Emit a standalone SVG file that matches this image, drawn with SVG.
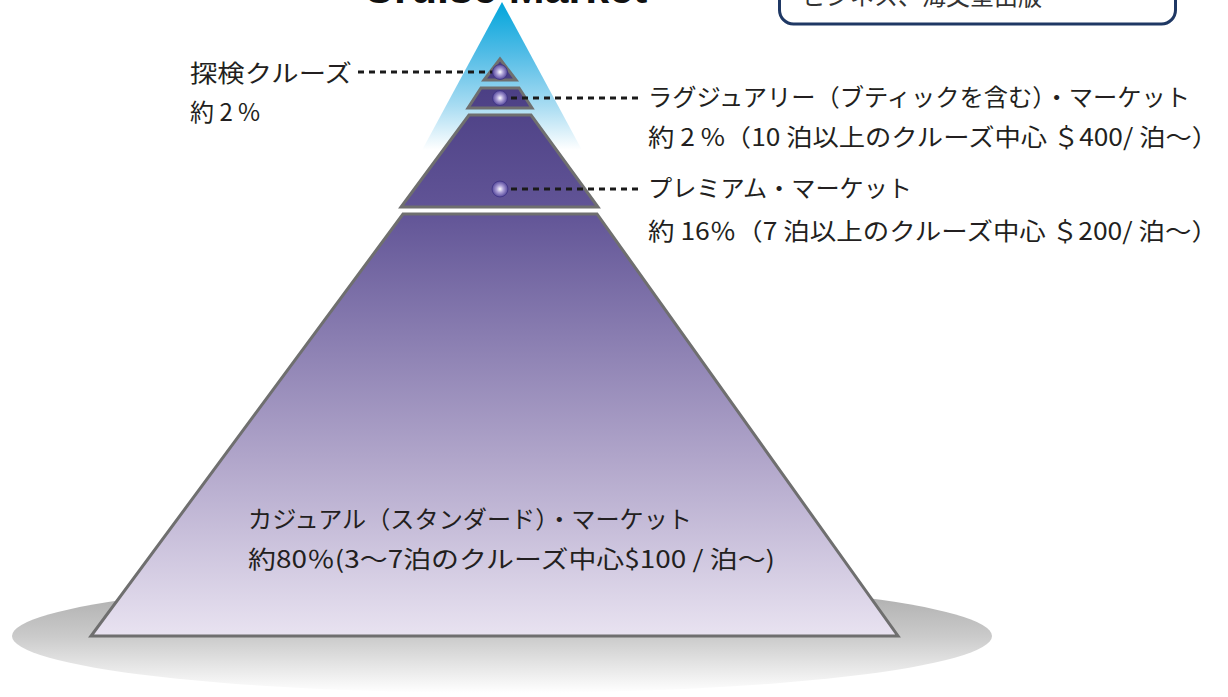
<svg xmlns="http://www.w3.org/2000/svg" width="1228" height="697" viewBox="0 0 1228 697">
<defs>
<linearGradient id="blue" x1="0" y1="2" x2="0" y2="150" gradientUnits="userSpaceOnUse">
<stop offset="0" stop-color="#00a5db"/>
<stop offset="0.35" stop-color="#52bce6"/>
<stop offset="0.7" stop-color="#a8dcf2"/>
<stop offset="1" stop-color="#ffffff"/>
</linearGradient>
<linearGradient id="purple" x1="0" y1="58" x2="0" y2="637" gradientUnits="userSpaceOnUse">
<stop offset="0" stop-color="#463a80"/>
<stop offset="0.27" stop-color="#625597"/>
<stop offset="0.7" stop-color="#b2a7cb"/>
<stop offset="1" stop-color="#e9e3f1"/>
</linearGradient>
<linearGradient id="shadow" x1="0" y1="579" x2="0" y2="693" gradientUnits="userSpaceOnUse">
<stop offset="0" stop-color="#a6a6a6"/>
<stop offset="0.5" stop-color="#cacaca"/>
<stop offset="1" stop-color="#ffffff"/>
</linearGradient>
<radialGradient id="sphere" cx="0.5" cy="0.5" r="0.5">
<stop offset="0" stop-color="#ffffff"/>
<stop offset="0.45" stop-color="#a99dd4"/>
<stop offset="1" stop-color="#54479a"/>
</radialGradient>
<style>
.tier{stroke:#6f6f6f;stroke-width:3;fill:url(#purple);stroke-linejoin:miter}
.dot{fill:url(#sphere);stroke:#3f3384;stroke-width:0.8}
.lead{stroke:#1a1a1a;stroke-width:3;stroke-dasharray:6 5;fill:none}
.lbl{font-family:"Noto Sans CJK JP","Noto Sans",sans-serif;font-size:24px;fill:#231f20}
</style>
</defs>

<g id="title">
<text x="363" y="3" font-family="'Liberation Sans',Arial,sans-serif" font-weight="bold" font-size="43" fill="#111">Cruise Market</text>
</g>

<g id="source-box">
<rect x="779.5" y="-60" width="396" height="84" rx="14" fill="#ffffff" stroke="#1f3864" stroke-width="3"/>
<text x="802" y="5" font-family="'Noto Sans CJK JP',sans-serif" font-size="24" fill="#333">ビジネス、海文堂出版</text>
</g>

<g id="base-shadow">
<ellipse cx="502" cy="636" rx="490" ry="57" fill="url(#shadow)"/>
</g>

<g id="light-beam">
<polygon points="502,2 421,152 583,152" fill="url(#blue)"/>
</g>

<g id="tier-expedition">
<polygon class="tier" points="500,59 516,80 484,80"/>
</g>
<g id="tier-luxury">
<polygon class="tier" points="481,88 519,88 532,108 468,108"/>
</g>
<g id="tier-premium">
<polygon class="tier" points="469,115 531,115 598,207 401,207"/>
</g>
<g id="tier-casual">
<polygon class="tier" points="403,214 597,214 898,636 91,636"/>
<text class="lbl" x="248" y="528" textLength="444" lengthAdjust="spacingAndGlyphs">カジュアル（スタンダード）・マーケット</text>
<text class="lbl" x="248" y="568" textLength="527" lengthAdjust="spacingAndGlyphs">約80％(3〜7泊のクルーズ中心$100 / 泊〜)</text>
</g>

<g id="connectors">
<line class="lead" x1="358" y1="72" x2="493" y2="72"/>
<line class="lead" x1="511" y1="98" x2="641" y2="98"/>
<line class="lead" x1="511" y1="189" x2="641" y2="189"/>
</g>

<g id="dots">
<circle class="dot" cx="500" cy="72" r="7.5"/>
<circle class="dot" cx="500" cy="98" r="7.5"/>
<circle class="dot" cx="500" cy="189" r="8"/>
</g>

<g id="label-expedition">
<text class="lbl" x="190" y="82" textLength="162" lengthAdjust="spacingAndGlyphs">探検クルーズ</text>
<text class="lbl" x="190" y="121">約 2 %</text>
</g>
<g id="label-luxury">
<text class="lbl" x="648" y="106" textLength="542" lengthAdjust="spacingAndGlyphs">ラグジュアリー（ブティックを含む）・マーケット</text>
<text class="lbl" x="648" y="146" textLength="570" lengthAdjust="spacingAndGlyphs">約 2 %（10 泊以上のクルーズ中心 ＄400/ 泊〜）</text>
</g>
<g id="label-premium">
<text class="lbl" x="648" y="197" textLength="264" lengthAdjust="spacingAndGlyphs">プレミアム・マーケット</text>
<text class="lbl" x="648" y="240" textLength="570" lengthAdjust="spacingAndGlyphs">約 16％（7 泊以上のクルーズ中心 ＄200/ 泊〜）</text>
</g>
</svg>
